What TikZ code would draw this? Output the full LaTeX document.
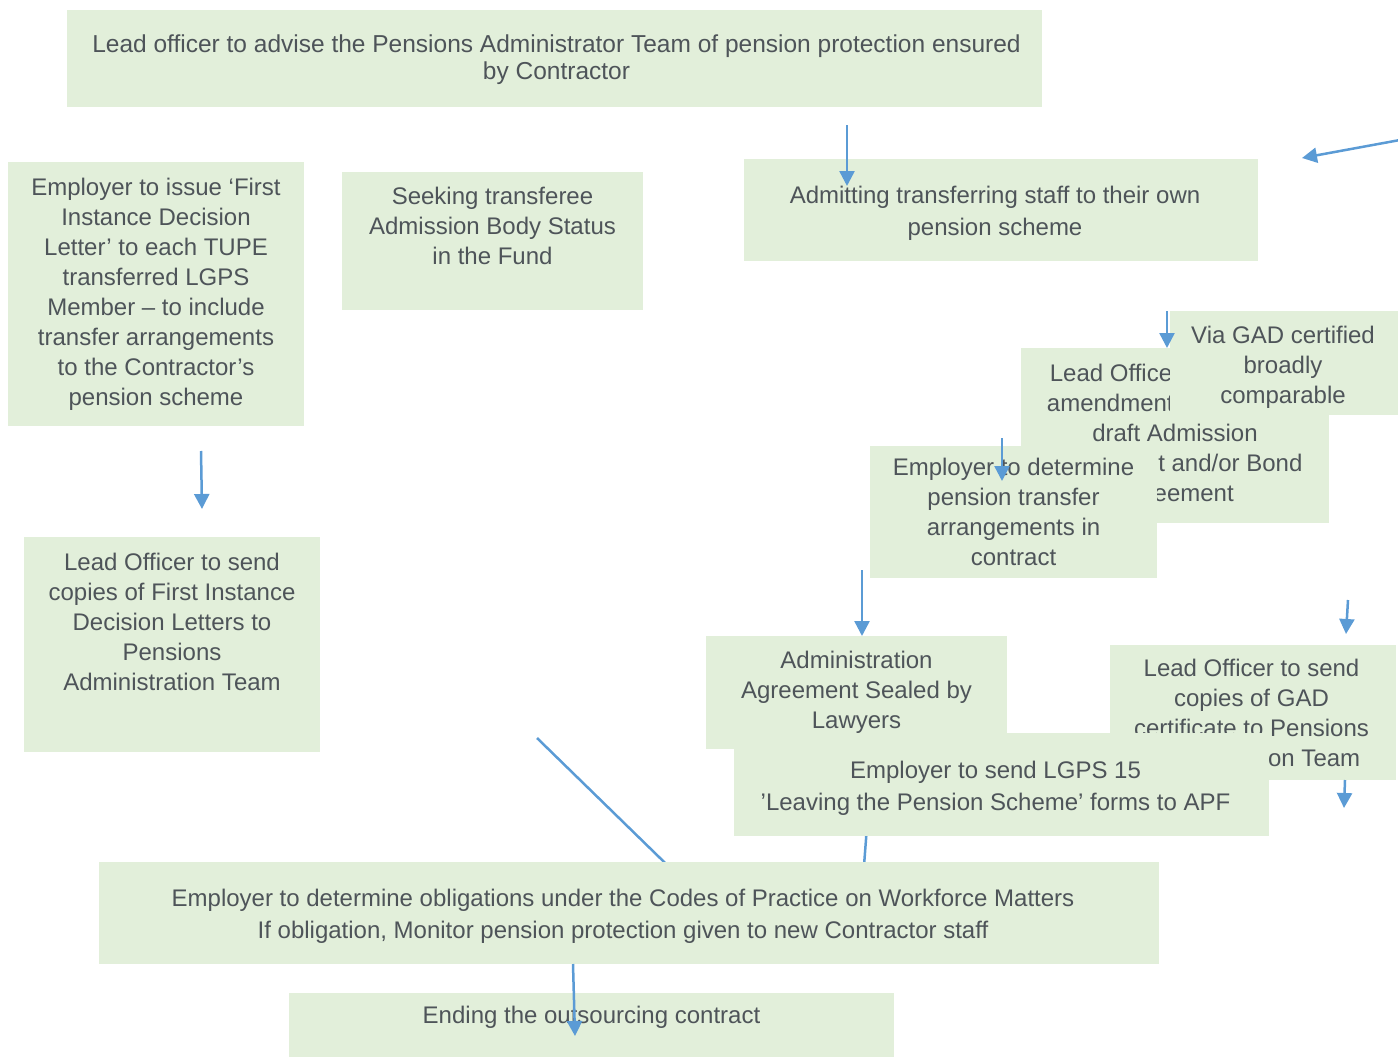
\documentclass[tikz,border=0pt]{standalone}
\usepackage{fontspec}
\setmainfont{Liberation Sans}
\usetikzlibrary{arrows.meta}

\definecolor{boxgreen}{RGB}{226,239,218}
\definecolor{txtgrey}{RGB}{78,84,89}
\definecolor{arrowblue}{RGB}{91,155,213}

\begin{document}
\begin{tikzpicture}[x=1pt,y=-1pt,
	box/.style={fill=boxgreen,inner sep=0pt,text=txtgrey,align=center,
		font=\fontsize{24}{30}\selectfont},
	words/.style={text=txtgrey,align=center,inner sep=0pt,
		font=\fontsize{24}{30}\selectfont},
	arr/.style={draw=arrowblue,line width=2.5pt,
		-{Triangle[length=15pt,width=15pt]}}]
	\useasboundingbox (0,0) rectangle (1398,1057);

	% connectors that end under the boxes
	\coordinate (slantTail) at (537,738);
	\coordinate (slantTip) at (700,897);
	\coordinate (sealTail) at (869,800);
	\coordinate (sealTip) at (862,892);
	\draw [arr] (slantTail) -- (slantTip);
	\draw [arr] (sealTail) -- (sealTip);

	% boxes
	\node [box,minimum width=975pt,minimum height=97pt] (advise) at (554.5,58.5) {};
	\node [words,font=\fontsize{24.5}{27}\selectfont] (adviseText) at (556.5,59.5)
		{Lead officer to advise the Pensions Administrator Team of pension protection ensured\\by Contractor};
	\node [box,minimum width=296pt,minimum height=264pt] (issue) at (156,294)
		{Employer to issue ‘First\\Instance Decision\\Letter’ to each TUPE\\transferred LGPS\\Member – to include\\transfer arrangements\\to the Contractor’s\\pension scheme};
	\node [box,minimum width=301pt,minimum height=138pt] (seek) at (492.5,241) {};
	\node [words] (seekText) at (492.5,226)
		{Seeking transferee\\Admission Body Status\\in the Fund};
	\node [box,minimum width=514pt,minimum height=102pt] (admit) at (1001,210) {};
	\node [words,font=\fontsize{24}{32}\selectfont] (admitText) at (995,213)
		{Admitting transferring staff to their own\\pension scheme};
	\node [box,minimum width=308pt,minimum height=175pt] (agree) at (1175,435.5)
		{Lead Officer to approve\\amendments to the final\\draft Admission\\Agreement and/or Bond\\Agreement};
	\node [box,minimum width=230pt,minimum height=104pt] (gad) at (1285,363) {};
	\node [words] (gadText) at (1283,367) {Via GAD certified\\broadly\\comparable};
	\node [box,minimum width=287pt,minimum height=132pt] (terms) at (1013.5,512)
		{Employer to determine\\pension transfer\\arrangements in\\contract};
	\node [box,minimum width=296pt,minimum height=215pt] (letters) at (172,644.5) {};
	\node [words] (lettersText) at (172,622)
		{Lead Officer to send\\copies of First Instance\\Decision Letters to\\Pensions\\Administration Team};
	\node [box,minimum width=286pt,minimum height=135pt] (gadCopy) at (1253,712.5) {};
	\node [words] (gadCopyText) at (1251.5,712.5)
		{Lead Officer to send\\copies of GAD\\certificate to Pensions\\Administration Team};
	\node [box,minimum width=535pt,minimum height=103pt] (leavers) at (1001.5,784.5) {};
	\node [words,font=\fontsize{24}{32}\selectfont] (leaversText) at (995.5,788.5)
		{Employer to send LGPS 15\\’Leaving the Pension Scheme’ forms to APF};
	\node [box,minimum width=301pt,minimum height=113pt] (sealed) at (856.5,692.5)
		{Administration\\Agreement Sealed by\\Lawyers};
	\node [box,minimum width=1060pt,minimum height=102pt] (codes) at (629,913) {};
	\node [words,font=\fontsize{24}{32}\selectfont] (codesText) at (623,916)
		{Employer to determine obligations under the Codes of Practice on Workforce Matters\\If obligation, Monitor pension protection given to new Contractor staff};
	\node [box,minimum width=605pt,minimum height=64pt] (ending) at (591.5,1025) {};
	\node [words] (endingText) at (591.5,1017) {Ending the outsourcing contract};

	% connectors on top
	\coordinate (adviseTail) at (847,125);
	\coordinate (adviseTip) at (847,186);
	\coordinate (edgeTail) at (1400,140);
	\coordinate (edgeTip) at (1302,158);
	\coordinate (issueTail) at (201,451);
	\coordinate (issueTip) at (202,509);
	\coordinate (gadTail) at (1167,311);
	\coordinate (gadTip) at (1167,348);
	\coordinate (termsTail) at (1002,438);
	\coordinate (termsTip) at (1002,481);
	\coordinate (sealedTail) at (862,570);
	\coordinate (sealedTip) at (862,636);
	\coordinate (copyTail) at (1348,600);
	\coordinate (copyTip) at (1346,634);
	\coordinate (belowTail) at (1345,780);
	\coordinate (belowTip) at (1344,808);
	\coordinate (endTail) at (573,964);
	\coordinate (endTip) at (575,1036);
	\draw [arr] (adviseTail) -- (adviseTip);
	\draw [arr] (edgeTail) -- (edgeTip);
	\draw [arr] (issueTail) -- (issueTip);
	\draw [arr] (gadTail) -- (gadTip);
	\draw [arr] (termsTail) -- (termsTip);
	\draw [arr] (sealedTail) -- (sealedTip);
	\draw [arr] (copyTail) -- (copyTip);
	\draw [arr] (belowTail) -- (belowTip);
	\draw [arr] (endTail) -- (endTip);
\end{tikzpicture}
\end{document}
